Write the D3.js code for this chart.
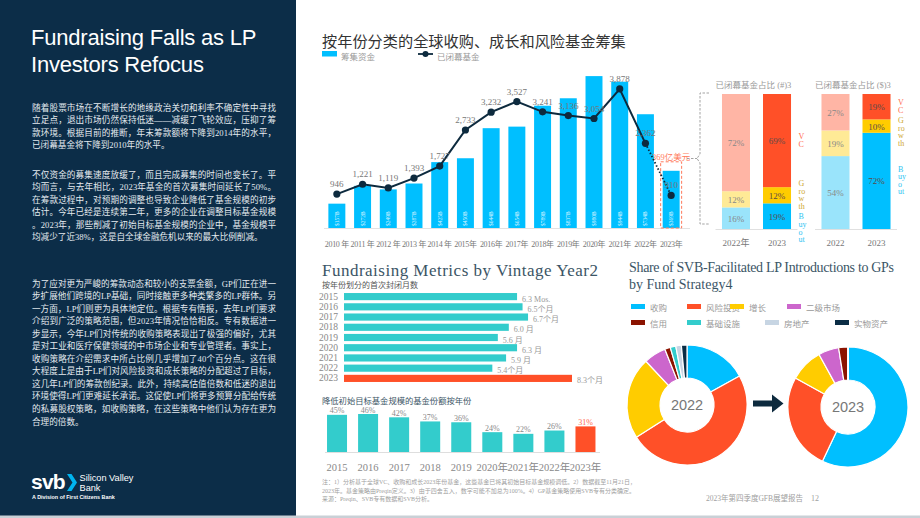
<!DOCTYPE html>
<html>
<head>
<meta charset="utf-8">
<script src="https://cdn.jsdelivr.net/npm/d3@7"></script>
<style>
  body { margin: 0; background: #fff; }
  svg { display: block; }
</style>
</head>
<body>
<div id="chart"></div>
<script>
// ---- data ----
const years = ["2010","2011","2012","2013","2014","2015","2016","2017","2018","2019","2020","2021","2022","2023"];
const yearLabels = ["2010 年","2011 年","2012 年","2013 年","2014 年","2015年","2016年","2017年","2018年","2019年","2020年","2021年","2022年","2023年"];
const capitalRaised = [157, 272, 249, 287, 425, 450, 644, 654, 789, 837, 980, 944, 734, 369]; // $B
const fundsClosed = [946, 1221, 1119, 1393, 1727, 2733, 3232, 3527, 3241, 3136, 3054, 3878, 2362, 910];

const strategyKeys = ["Buyout", "Growth", "VC"];
const strategyLetters = {VC: ["V","C"], Growth: ["G","ro","w","th"], Buyout: ["B","uy","o","ut"]};
const closedCountShare = [
  {year: "2022年", Buyout: 16, Growth: 12, VC: 72},
  {year: "2023", Buyout: 19, Growth: 12, VC: 69}
];
const closedValueShare = [
  {year: "2022", Buyout: 54, Growth: 19, VC: 27},
  {year: "2023 ", Buyout: 72, Growth: 10, VC: 19}
];

const vintageYears = ["2015","2016","2017","2018","2019","2020","2021","2022","2023"];
const monthsToClose = [6.3, 6.5, 6.7, 6.0, 5.6, 6.3, 5.9, 5.4, 8.3];
const monthLabels = ["6.3 Mos.","6.5个月","6.7个月","6.0 月","5.6 月","6.3 月","5.9 月","5.4个月","8.3个月"];

const reducedYears = ["2015","2016","2017","2018","2019","2020年","2021年","2022年","2023年"];
const shareReduced = [45, 46, 42, 37, 36, 24, 22, 26, 31];

const strategyNames = ["收购","风险投资","增长","二级市场","信用","基础设施","房地产","实物资产"];
const strategyColors = ["#00bfff","#ff5028","#ffcc00","#cc66cc","#8b1300","#33cccc","#c7d5e3","#0b2d45"];
const share2022 = [17, 49, 22, 6, 1.5, 1.5, 1.5, 1.5];
const share2023 = [57, 26, 9, 5.5, 2.5, 0, 0, 0];

const intro1 = [
  "随着股票市场在不断增长的地缘政治关切和利率不确定性中寻找",
  "立足点，退出市场仍然保持低迷——减缓了飞轮效应，压抑了筹",
  "款环境。根据目前的推断，年末筹款额将下降到2014年的水平，",
  "已闭幕基金将下降到2010年的水平。"
];
const intro2 = [
  "不仅资金的募集速度放缓了，而且完成募集的时间也变长了。平",
  "均而言，与去年相比，2023年基金的首次募集时间延长了50%。",
  "在筹款过程中，对预期的调整也导致企业降低了基金规模的初步",
  "估计。今年已经是连续第二年，更多的企业在调整目标基金规模",
  "。2023年，那些削减了初始目标基金规模的企业中，基金规模平",
  "均减少了近38%，这是自全球金融危机以来的最大比例削减。"
];
const intro3 = [
  "为了应对更为严峻的筹款动态和较小的支票金额，GP们正在进一",
  "步扩展他们跨境的LP基础，同时接触更多种类繁多的LP群体。另",
  "一方面，LP们则更为具体地定位。根据专有情报，去年LP们要求",
  "介绍到广泛的策略范围，但2023年情况恰恰相反。专有数据进一",
  "步显示，今年LP们对传统的收购策略表现出了极强的偏好，尤其",
  "是对工业和医疗保健领域的中市场企业和专业管理者。事实上，",
  "收购策略在介绍需求中所占比例几乎增加了40个百分点。这在很",
  "大程度上是由于LP们对风险投资和成长策略的分配超过了目标，",
  "这几年LP们的筹款创纪录。此外，持续高估值倍数和低迷的退出",
  "环境使得LP们更难延长承诺。这促使LP们将更多预算分配给传统",
  "的私募股权策略，如收购策略，在这些策略中他们认为存在更为",
  "合理的倍数。"
];
const footnotes = [
  "注：1）分析基于全球VC、收购和成长2023年份基金，这些基金已将其初始目标基金规模调低。2）数据截至11月21日，",
  "2023年。基金策略由Preqin定义。3）由于四舍五入，数字可能不加总为100%。4）GP基金策略使用SVB专有分类确定。",
  "来源：Preqin、SVB专有数据和SVB分析。"
];

const width = 920, height = 518;
const serif = "'Liberation Serif', 'Noto Sans CJK SC', serif";
const sans = "'Liberation Sans', 'Noto Sans CJK SC', sans-serif";
const cjk = "'Noto Sans CJK SC', sans-serif";

const svg = d3.select("#chart").append("svg")
  .attr("width", width)
  .attr("height", height)
  .attr("font-family", serif);

// ---- left panel ----
svg.append("rect").attr("width", 296).attr("height", 516).attr("fill", "#0c2d48");
svg.append("rect").attr("y", 515.5).attr("width", width).attr("height", 2.5).attr("fill", "#c9d0d6");

["Fundraising Falls as LP", "Investors Refocus"].forEach((t, i) => {
  svg.append("text")
    .attr("x", 31).attr("y", 45 + i * 27)
    .attr("font-family", sans).attr("font-size", 22)
    .attr("letter-spacing", -0.2)
    .attr("fill", "#ffffff")
    .text(t);
});

function para(lines, y0) {
  lines.forEach((t, i) => {
    const tx = svg.append("text")
      .attr("x", 32).attr("y", y0 + i * 12.55)
      .attr("font-size", 8.6)
      .attr("fill", "#e4eaef")
      .text(t);
    if (i < lines.length - 1) tx.attr("textLength", 244).attr("lengthAdjust", "spacing");
  });
}
para(intro1, 110.5);
para(intro2, 177.5);
para(intro3, 286.5);

// svb logo
svg.append("text").attr("x", 31).attr("y", 489)
  .attr("font-family", sans).attr("font-weight", "bold").attr("font-size", 21)
  .attr("letter-spacing", -0.8).attr("fill", "#fff").text("svb");
svg.append("path")
  .attr("d", "M67,474 L71.5,474 L77,482.5 L71.5,491 L67,491 L72.5,482.5 Z")
  .attr("fill", "#00b4f0");
svg.append("text").attr("x", 79.5).attr("y", 481).attr("font-family", sans)
  .attr("font-size", 9.2).attr("fill", "#fff").text("Silicon Valley");
svg.append("text").attr("x", 79.5).attr("y", 490.5).attr("font-family", sans)
  .attr("font-size", 9.2).attr("fill", "#fff").text("Bank");
svg.append("text").attr("x", 32).attr("y", 499).attr("font-family", sans)
  .attr("font-size", 5.4).attr("font-weight", "bold").attr("fill", "#fff")
  .text("A Division of First Citizens Bank");

// ---- main chart: capital raised + funds closed ----
svg.append("text").attr("x", 322).attr("y", 47)
  .attr("font-family", cjk).attr("font-size", 15.2).attr("fill", "#333")
  .text("按年份分类的全球收购、成长和风险基金筹集");

// legend
svg.append("rect").attr("x", 322).attr("y", 51).attr("width", 15).attr("height", 5.5).attr("fill", "#00bfff");
svg.append("text").attr("x", 341).attr("y", 60).attr("font-family", cjk).attr("font-size", 8.5)
  .attr("fill", "#999").text("筹集资金");
svg.append("line").attr("x1", 418).attr("x2", 433).attr("y1", 54).attr("y2", 54)
  .attr("stroke", "#0d2a3e").attr("stroke-width", 1.8);
svg.append("circle").attr("cx", 425.5).attr("cy", 54).attr("r", 3).attr("fill", "#0d2a3e");
svg.append("text").attr("x", 437).attr("y", 60).attr("font-family", cjk).attr("font-size", 8.5)
  .attr("fill", "#999").text("已闭幕基金");

const mainData = years.map((y, i) => ({year: y, raised: capitalRaised[i], closed: fundsClosed[i]}));

const xMain = d3.scaleBand().domain(years).range([324, 684]).paddingInner(0.34).paddingOuter(0.17);
const yBar = d3.scaleLinear().domain([0, 1000]).range([228, 73]);
const yLine = d3.scaleLinear().domain([0, 4000]).range([228, 84.6]);
const cx = d => xMain(d.year) + xMain.bandwidth() / 2;

svg.append("line").attr("x1", 324).attr("x2", 690).attr("y1", 228.5).attr("y2", 228.5)
  .attr("stroke", "#e2e2e2").attr("stroke-width", 1.2);

svg.selectAll(".bar")
  .data(mainData)
  .enter()
  .append("rect")
  .attr("class", "bar")
  .attr("x", d => xMain(d.year))
  .attr("width", xMain.bandwidth())
  .attr("y", d => yBar(d.raised))
  .attr("height", d => 228 - yBar(d.raised))
  .attr("fill", "#00bfff");

svg.selectAll(".in-bar")
  .data(mainData)
  .enter()
  .append("text")
  .attr("class", "in-bar")
  .attr("transform", d => "translate(" + (cx(d) + 2) + ",226) rotate(-90)")
  .attr("font-size", 5.5)
  .attr("fill", "#d6f3ff")
  .text(d => "$" + d.raised + "B");

// 2023 annotation
const last = mainData[mainData.length - 1];
svg.append("rect")
  .attr("x", xMain(last.year) - 2).attr("y", yBar(last.raised) - 9)
  .attr("width", xMain.bandwidth() + 4).attr("height", 228 - yBar(last.raised) + 9)
  .attr("fill", "none").attr("stroke", "#ff7a5c").attr("stroke-width", 1)
  .attr("stroke-dasharray", "3,2");
svg.append("text")
  .attr("x", cx(last)).attr("y", yBar(last.raised) - 11)
  .attr("text-anchor", "middle").attr("font-size", 8.5).attr("fill", "#ff7a5c")
  .text(last.raised + "亿美元");
svg.append("path")
  .attr("d", "M687,158.5 H697 M709,93 H700 V154 L697,158.5 L700,163 V224 H709")
  .attr("fill", "none").attr("stroke", "#999").attr("stroke-width", 0.9)
  .attr("stroke-dasharray", "2.5,1.5");

const lineGen = d3.line().x(d => cx(d)).y(d => yLine(d.closed));
svg.append("path")
  .datum(mainData.slice(0, 13))
  .attr("d", lineGen)
  .attr("fill", "none").attr("stroke", "#0d2a3e").attr("stroke-width", 2);
svg.append("path")
  .datum(mainData.slice(12))
  .attr("d", lineGen)
  .attr("fill", "none").attr("stroke", "#0d2a3e").attr("stroke-width", 1.8)
  .attr("stroke-dasharray", "1.5,2");

svg.selectAll(".pt")
  .data(mainData)
  .enter()
  .append("circle")
  .attr("class", "pt")
  .attr("cx", d => cx(d)).attr("cy", d => yLine(d.closed)).attr("r", 3.6)
  .attr("fill", "#0d2a3e");

svg.selectAll(".pt-label")
  .data(mainData)
  .enter()
  .append("text")
  .attr("class", "pt-label")
  .attr("x", d => cx(d)).attr("y", d => yLine(d.closed) - 7)
  .attr("text-anchor", "middle").attr("font-size", 9).attr("fill", "#777")
  .text(d => d3.format(",")(d.closed));

const xAxisMain = svg.append("g")
  .attr("transform", "translate(0,228)")
  .call(d3.axisBottom(xMain).tickSize(0).tickPadding(13).tickFormat((d, i) => yearLabels[i]));
xAxisMain.select(".domain").remove();
xAxisMain.selectAll("text").attr("font-family", serif)
  .attr("font-size", 8).attr("letter-spacing", -0.3).attr("fill", "#777");

// ---- stacked share charts ----
const lightColors = {Buyout: "#9ae4fb", Growth: "#ffea96", VC: "#ffb5a5"};
const strongColors = {Buyout: "#00bfff", Growth: "#ffcc00", VC: "#ff5028"};
const sideColors = {Buyout: "#2fc4f2", Growth: "#cfa832", VC: "#ff6a4d"};

function stackedChart(data, x0, x1, title) {
  const x = d3.scaleBand().domain(data.map(d => d.year)).range([x0, x1]).paddingInner(0.317).paddingOuter(0.158);
  const y = d3.scaleLinear().domain([0, 1]).range([229, 94]);
  const series = d3.stack().keys(strategyKeys).offset(d3.stackOffsetExpand)(data);

  svg.append("text").attr("x", x0).attr("y", 88)
    .attr("font-size", 8.5).attr("fill", "#999").text(title);

  const g = svg.append("g");
  series.forEach(s => {
    g.selectAll(null)
      .data(s)
      .enter()
      .append("rect")
      .attr("x", d => x(d.data.year))
      .attr("width", x.bandwidth())
      .attr("y", d => y(d[1]))
      .attr("height", d => y(d[0]) - y(d[1]))
      .attr("fill", (d, i) => i === 0 ? lightColors[s.key] : strongColors[s.key]);
    g.selectAll(null)
      .data(s)
      .enter()
      .append("text")
      .attr("x", d => x(d.data.year) + x.bandwidth() / 2)
      .attr("y", d => (y(d[0]) + y(d[1])) / 2 + 3.5)
      .attr("text-anchor", "middle").attr("font-size", 9)
      .attr("fill", (d, i) => i === 0 ? "#888" : "#5a4a48")
      .text(d => d.data[s.key] + "%");
  });

  // side labels for the latest bar, stacked letters
  const lastS = series.map(s => ({key: s.key, d: s[s.length - 1]})).reverse();
  let prevEnd = 0;
  const sx = x1 + 1;
  lastS.forEach(o => {
    const letters = strategyLetters[o.key];
    const h = letters.length * 7.6;
    const mid = (y(o.d[0]) + y(o.d[1])) / 2;
    const top = Math.max(mid - h / 2, prevEnd + 3);
    letters.forEach((l, j) => {
      g.append("text").attr("x", sx).attr("y", top + 6 + j * 7.6)
        .attr("font-size", 8).attr("fill", sideColors[o.key]).text(l);
    });
    prevEnd = top + h;
  });

  svg.append("line").attr("x1", x0).attr("x2", x1).attr("y1", 229.5).attr("y2", 229.5)
    .attr("stroke", "#e0e0e0");
  const ax = svg.append("g").attr("transform", "translate(0,229)")
    .call(d3.axisBottom(x).tickSize(0).tickPadding(11));
  ax.select(".domain").remove();
  ax.selectAll("text").attr("font-family", serif)
    .attr("font-size", 9).attr("fill", "#777");
}
stackedChart(closedCountShare, 715.5, 797.5, "已闭幕基金占比 (#)3");
stackedChart(closedValueShare, 815, 897, "已闭幕基金占比 ($)3");

// ---- fundraising metrics: months to first close ----
svg.append("text").attr("x", 322).attr("y", 275.5)
  .attr("font-size", 17).attr("fill", "#3b5566")
  .attr("textLength", 276).attr("lengthAdjust", "spacing")
  .text("Fundraising Metrics by Vintage Year2");
svg.append("text").attr("x", 322).attr("y", 288)
  .attr("font-family", cjk).attr("font-size", 8).attr("fill", "#555")
  .text("按年份划分的首次封闭月数");

const vData = vintageYears.map((y, i) => ({year: y, months: monthsToClose[i], label: monthLabels[i]}));
const yV = d3.scaleBand().domain(vintageYears).range([291.5, 383.5]).paddingInner(0.3).paddingOuter(0.15);
const xV = d3.scaleLinear().domain([0, 8.3]).range([344, 572]);

svg.selectAll(".hbar")
  .data(vData)
  .enter()
  .append("rect")
  .attr("class", "hbar")
  .attr("x", xV(0))
  .attr("y", d => yV(d.year))
  .attr("height", yV.bandwidth())
  .attr("width", d => xV(d.months) - xV(0))
  .attr("fill", d => d.year === "2023" ? "#ff5028" : "#33cccc");

svg.selectAll(".hbar-label")
  .data(vData)
  .enter()
  .append("text")
  .attr("class", "hbar-label")
  .attr("x", d => xV(d.months) + 5)
  .attr("y", d => yV(d.year) + yV.bandwidth() / 2 + 5)
  .attr("font-size", 8).attr("fill", "#999")
  .text(d => d.label);

const yAxisV = svg.append("g").attr("transform", "translate(344,0)")
  .call(d3.axisLeft(yV).tickSize(0).tickPadding(6));
yAxisV.select(".domain").remove();
yAxisV.selectAll("text").attr("font-family", serif)
  .attr("font-size", 9.5).attr("fill", "#888");

// ---- share of funds that reduced target ----
svg.append("text").attr("x", 322).attr("y", 404)
  .attr("font-family", cjk).attr("font-size", 8.3).attr("fill", "#3b5566")
  .text("降低初始目标基金规模的基金份额按年份");

const rData = reducedYears.map((y, i) => ({year: y, share: shareReduced[i]}));
const xR = d3.scaleBand().domain(reducedYears).range([321.5, 601]).paddingInner(0.356).paddingOuter(0.178);
const yR = d3.scaleLinear().domain([0, 50]).range([452, 410.7]);

svg.append("line").attr("x1", 325).attr("x2", 600).attr("y1", 452.5).attr("y2", 452.5)
  .attr("stroke", "#dedede");

svg.selectAll(".vbar")
  .data(rData)
  .enter()
  .append("rect")
  .attr("class", "vbar")
  .attr("x", d => xR(d.year))
  .attr("width", xR.bandwidth())
  .attr("y", d => yR(d.share))
  .attr("height", d => yR(0) - yR(d.share))
  .attr("fill", d => d.year === "2023年" ? "#ff5028" : "#33cccc");

svg.selectAll(".vbar-label")
  .data(rData)
  .enter()
  .append("text")
  .attr("class", "vbar-label")
  .attr("x", d => xR(d.year) + xR.bandwidth() / 2)
  .attr("y", d => yR(d.share) - 1.5)
  .attr("text-anchor", "middle").attr("font-size", 8)
  .attr("fill", d => d.year === "2023年" ? "#ff6a4d" : "#888")
  .text(d => d.share + "%");

const xAxisR = svg.append("g").attr("transform", "translate(0,452)")
  .call(d3.axisBottom(xR).tickSize(0).tickPadding(12));
xAxisR.select(".domain").remove();
xAxisR.selectAll("text").attr("font-family", serif)
  .attr("font-size", 10.5).attr("fill", "#888");

// ---- donuts ----
svg.append("text").attr("x", 629).attr("y", 272)
  .attr("font-size", 14).attr("fill", "#3b5566")
  .attr("textLength", 265).attr("lengthAdjust", "spacing")
  .text("Share of SVB-Facilitated LP Introductions to GPs");
svg.append("text").attr("x", 629).attr("y", 288.5)
  .attr("font-size", 14).attr("fill", "#3b5566")
  .text("by Fund Strategy4");

const legendCols = [[631, 687, 730, 787], [631, 687, 765, 835]];
strategyNames.forEach((n, i) => {
  const row = Math.floor(i / 4), col = i % 4;
  const lx = legendCols[row][col], ly = 304 + row * 16;
  svg.append("rect").attr("x", lx).attr("y", ly).attr("width", 14).attr("height", 5)
    .attr("fill", strategyColors[i]);
  svg.append("text").attr("x", lx + 19).attr("y", ly + 6.5)
    .attr("font-family", cjk).attr("font-size", 8.5).attr("fill", "#999").text(n);
});

const pie = d3.pie().sort(null).value(d => d.v);
const arc = d3.arc().innerRadius(27).outerRadius(60);

function donut(values, x, y, label) {
  const g = svg.append("g").attr("transform", "translate(" + x + "," + y + ")");
  g.selectAll("path")
    .data(pie(values.map((v, i) => ({v: v, c: strategyColors[i]}))))
    .enter()
    .append("path")
    .attr("d", arc)
    .attr("fill", d => d.data.c)
    .attr("stroke", "#fff").attr("stroke-width", 1.2);
  g.append("text").attr("y", 5).attr("text-anchor", "middle")
    .attr("font-family", sans).attr("font-size", 14.5).attr("fill", "#777").text(label);
}
donut(share2022, 687, 405, "2022");
donut(share2023, 848, 407, "2023");

svg.append("path")
  .attr("d", "M753,400.5 H772 V394.5 L783.5,403.5 L772,412.5 V406.5 H753 Z")
  .attr("fill", "#0d2a3e");

// ---- footer ----
footnotes.forEach((t, i) => {
  svg.append("text").attr("x", 322).attr("y", 484 + i * 8.7)
    .attr("font-size", 6).attr("fill", "#a0a0a0").text(t);
});
svg.append("text").attr("x", 803).attr("y", 501).attr("text-anchor", "end")
  .attr("font-size", 7.5).attr("fill", "#a0a0a0")
  .text("2023年第四季度GFB展望报告");
svg.append("text").attr("x", 811).attr("y", 501)
  .attr("font-size", 8).attr("fill", "#a0a0a0").text("12");
</script>
</body>
</html>
